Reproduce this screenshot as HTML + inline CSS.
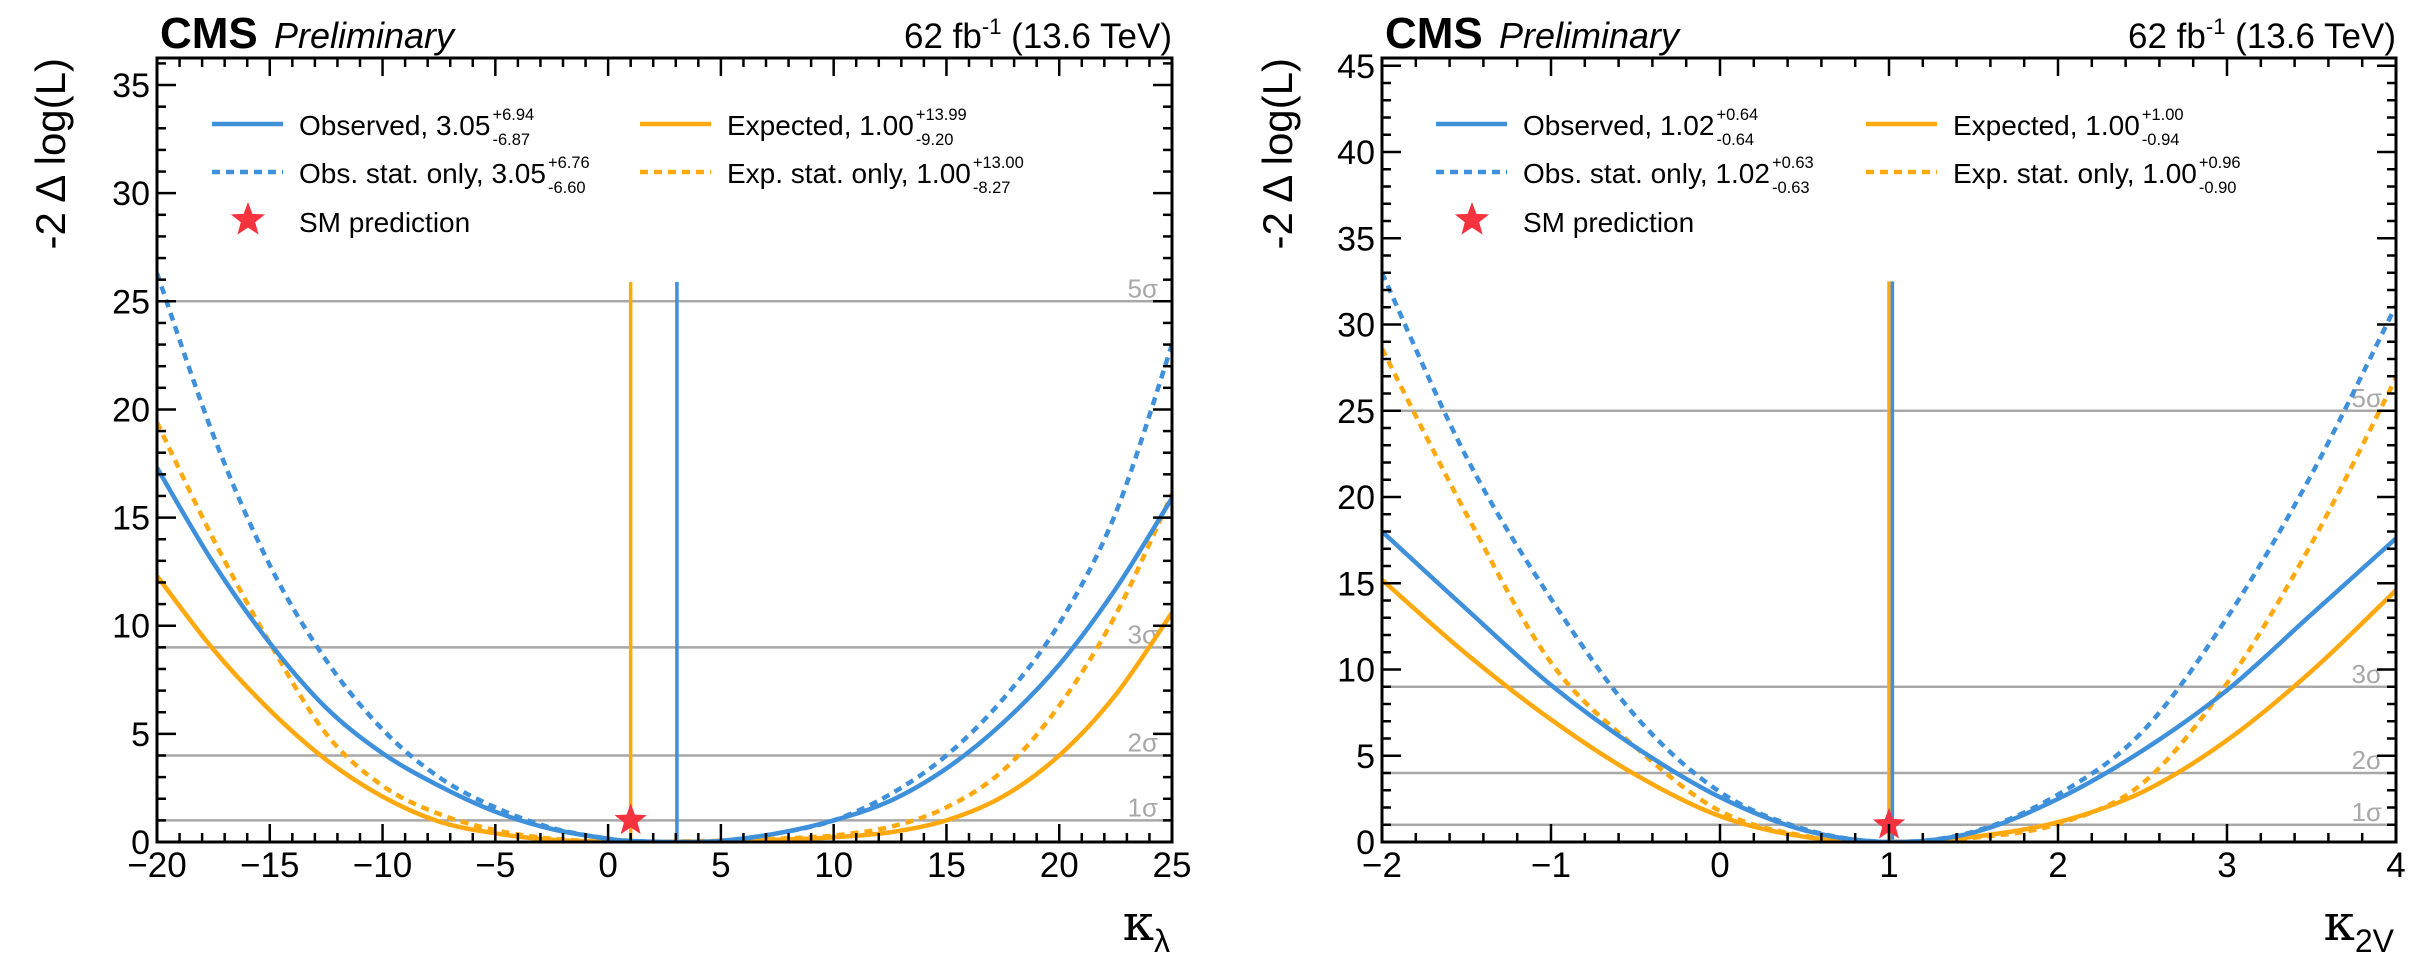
<!DOCTYPE html>
<html><head><meta charset="utf-8"><style>
html,body{margin:0;padding:0;background:#fff;}
svg{display:block;font-family:"Liberation Sans",Arial,sans-serif;}
</style></head><body>
<svg id="c" width="2435" height="968" viewBox="0 0 2435 968" xmlns="http://www.w3.org/2000/svg"></svg>
<script>
// ---- Left panel data (kappa_lambda) ----
const klX = [-20,-17.5,-15,-12.5,-10,-7.5,-5,-2.5,0,1,2.5,3.05,5,7.5,10,12.5,15,17.5,20,22.5,25];
const klObs = [17.3,12.9,9.2,6.2,4.1,2.6,1.4,0.6,0.15,0.05,0.005,0,0.05,0.4,1.0,1.9,3.4,5.5,8.2,11.7,15.9];
const klObsStat = [26.3,18.8,12.8,8.4,5.2,3.0,1.6,0.65,0.15,0.05,0.005,0,0.05,0.4,1.0,2.2,4.0,6.6,10.1,15.2,23.0];
const klExpX = [-20,-17.5,-15,-12.5,-10,-7.5,-5,-2.5,0,1,2.5,5,7.5,10,12.5,15,17.5,20,22.5,25];
const klExp = [12.3,8.9,6.1,3.8,2.1,0.95,0.4,0.1,0.01,0,0.01,0.03,0.1,0.22,0.45,1.0,2.1,4.0,6.8,10.6];
const klExpStat = [19.4,14.0,9.2,5.0,2.6,1.3,0.55,0.15,0.01,0,0.01,0.06,0.15,0.3,0.7,1.6,3.3,6.3,10.5,16.1];
const klBest = {obs:3.05, exp:1.00, sm:1, smY:1};
// ---- Right panel data (kappa_2V) ----
const k2X = [-2,-1.5,-1,-0.5,0,0.5,1,1.5,2,2.5,3,3.5,4];
const k2Obs = [18.0,13.5,9.1,5.5,2.6,0.68,0,0.55,2.5,5.3,8.8,13.2,17.6];
const k2ObsStat = [33.0,22.3,14.1,7.3,2.9,0.75,0,0.6,2.75,6.4,13.0,21.3,31.1];
const k2Exp = [15.2,10.9,7.1,3.9,1.5,0.3,0,0.3,1.15,2.9,5.9,9.9,14.6];
const k2ExpStat = [28.6,19.0,10.4,5.5,1.8,0.35,0,0.25,1.05,3.4,9.2,17.3,26.9];
const k2Best = {obs:1.02, exp:1.00, sm:1, smY:1};
const klXTicks = ["\u221220","\u221215","\u221210","\u22125","0","5","10","15","20","25"];
const k2XTicks = ["\u22122","\u22121","0","1","2","3","4"];
const sigmaVals = [1,4,9,25];
const sigmaLabels = ["1\u03c3","2\u03c3","3\u03c3","5\u03c3"];

const NS="http://www.w3.org/2000/svg";
const svg=document.getElementById('c');
const BLUE="#3f90da", ORANGE="#ffa90e", RED="#f5333f", GRAY="#a8a8a8";
function mk(tag,attrs,parent){const e=document.createElementNS(NS,tag);for(const k in attrs)e.setAttribute(k,attrs[k]);(parent||svg).appendChild(e);return e;}

function smoothPath(pts){
  let d="M"+pts[0][0].toFixed(1)+","+pts[0][1].toFixed(1);
  for(let i=0;i<pts.length-1;i++){
    const p0=pts[Math.max(0,i-1)],p1=pts[i],p2=pts[i+1],p3=pts[Math.min(pts.length-1,i+2)];
    const c1=[p1[0]+(p2[0]-p0[0])/6,p1[1]+(p2[1]-p0[1])/6];
    const c2=[p2[0]-(p3[0]-p1[0])/6,p2[1]-(p3[1]-p1[1])/6];
    d+=" C"+c1[0].toFixed(1)+","+c1[1].toFixed(1)+" "+c2[0].toFixed(1)+","+c2[1].toFixed(1)+" "+p2[0].toFixed(1)+","+p2[1].toFixed(1);
  }
  return d;
}
function star(cx,cy,r,g){
  let p=[];for(let i=0;i<10;i++){const a=-Math.PI/2+i*Math.PI/5;const rr=i%2?r*0.42:r;p.push((cx+rr*Math.cos(a)).toFixed(1)+","+(cy+rr*Math.sin(a)).toFixed(1));}
  return mk('polygon',{points:p.join(' '),fill:RED},g);
}

function panel(cfg){
  const g=mk('g',{});
  
  
  const {x0,x1,y0,y1,xmin,xmax,ymin,ymax}=cfg;
  const sx=v=>x0+(v-xmin)/(xmax-xmin)*(x1-x0);
  const sy=v=>y1-(v-ymin)/(ymax-ymin)*(y1-y0);
  const clipId=cfg.name+"-clip";
  const defs=mk('defs',{},g);
  const cp=mk('clipPath',{id:clipId},defs);
  mk('rect',{x:x0,y:y0,width:x1-x0,height:y1-y0},cp);
  sigmaVals.forEach((s,i)=>{
    const l=mk('line',{x1:x0,x2:x1,y1:sy(s),y2:sy(s),stroke:GRAY,'stroke-width':2.5},g);
    
    
    const t=mk('text',{x:x1-14,y:sy(s)-4,'text-anchor':'end','font-size':26,fill:GRAY},g);
    t.textContent=sigmaLabels[i];
    
    
  });
  const vtop=cfg.vtop;
  const ve=mk('line',{x1:sx(cfg.best.exp),x2:sx(cfg.best.exp),y1:sy(0),y2:sy(vtop),stroke:ORANGE,'stroke-width':3.5},g);
  
  
  const vo=mk('line',{x1:sx(cfg.best.obs),x2:sx(cfg.best.obs),y1:sy(0),y2:sy(vtop),stroke:BLUE,'stroke-width':3.5},g);
  
  
  const cg=mk('g',{'clip-path':'url(#'+clipId+')'},g);
  cfg.series.forEach(s=>{
    const pts=s.xs.map((x,i)=>[sx(x),sy(s.ys[i])]);
    const p=mk('path',{d:smoothPath(pts),fill:'none',stroke:s.color,'stroke-width':4.5,'stroke-dasharray':s.dash?'8 6':'none','stroke-linejoin':'round'},cg);
    
    
  });
  const st=star(sx(cfg.best.sm),sy(cfg.best.smY),17,g);
  
  
  const fr=mk('rect',{x:x0,y:y0,width:x1-x0,height:y1-y0,fill:'none',stroke:'#000','stroke-width':3},g);
  
  
  const nMinX=Math.round((xmax-xmin)/cfg.xminor);
  for(let i=0;i<=nMinX;i++){
    const v=xmin+i*cfg.xminor;const major=Math.abs(v/cfg.xmajor-Math.round(v/cfg.xmajor))<1e-6;
    const L=major?18:9;const X=sx(v);
    mk('line',{x1:X,x2:X,y1:y1,y2:y1-L,stroke:'#000','stroke-width':2.5},g);
    mk('line',{x1:X,x2:X,y1:y0,y2:y0+L,stroke:'#000','stroke-width':2.5},g);
  }
  cfg.xTickLabels.forEach((lab,i)=>{
    const v=xmin+i*cfg.xmajor;
    const t=mk('text',{x:sx(v),y:877,'text-anchor':'middle','font-size':35},g);
    t.textContent=lab;
    
    
  });
  for(let v=0;v<=ymax+1e-6;v+=1){
    const major=v%5===0;const L=major?19:9;const Y=sy(v);
    mk('line',{x1:x0,x2:x0+L,y1:Y,y2:Y,stroke:'#000','stroke-width':2.5},g);
    mk('line',{x1:x1,x2:x1-L,y1:Y,y2:Y,stroke:'#000','stroke-width':2.5},g);
    if(major){
      const t=mk('text',{x:x0-7,y:Y+12,'text-anchor':'end','font-size':34},g);
      t.textContent=String(v);
      
      
    }
  }
  const yt=mk('text',{x:0,y:0,'text-anchor':'end','font-size':42,transform:'translate('+(cfg.ytx)+','+(y0)+') rotate(-90)'},g);
  yt.textContent="-2 \u0394 log(L)";
  
  
  const xt=mk('text',{x:x1-2,y:940,'text-anchor':'end','font-size':50,'font-family':'"DejaVu Serif","Liberation Serif",serif'},g);
  xt.innerHTML='\u03ba<tspan font-size="32" dy="12" font-family="Liberation Sans,sans-serif">'+cfg.xsub+'</tspan>';
  
  
  const cms=mk('text',{x:x0+3,y:48,'font-size':44,'font-weight':'bold'},g);
  cms.textContent="CMS";
  
  
  const pre=mk('text',{x:x0+117,y:48,'font-size':36,'font-style':'italic'},g);
  pre.textContent="Preliminary";
  
  
  const lumi=mk('text',{x:x1,y:48,'text-anchor':'end','font-size':35},g);
  lumi.innerHTML='62 fb<tspan font-size="22" dy="-14">-1</tspan><tspan dy="14"> (13.6 TeV)</tspan>';
  
  
  const lg=mk('g',{},g);
  
  
  cfg.legend.forEach(e=>{
    const eg=mk('g',{},lg);
    
    
    if(e.star){star(e.lx+36,e.y-12,18,eg);}
    else mk('line',{x1:e.lx,x2:e.lx+71,y1:e.y-11,y2:e.y-11,stroke:e.color,'stroke-width':4.5,'stroke-dasharray':e.dash?'8 6':'none'},eg);
    const t=mk('text',{x:e.lx+87,y:e.y,'font-size':28},eg);
    t.textContent=e.text;
    if(e.up){
      const w=t.getComputedTextLength();
      const u=mk('text',{x:e.lx+87+w+2,y:e.y-15,'font-size':16.5},eg);u.textContent=e.up;
      const d=mk('text',{x:e.lx+87+w+2,y:e.y+10,'font-size':16.5},eg);d.textContent=e.dn;
    }
  });
}

panel({name:'kappa-lambda-panel',x0:157,x1:1172,y0:58,y1:842,xmin:-20,xmax:25,ymin:0,ymax:36.25,
  xmajor:5,xminor:1,xTickLabels:klXTicks,xsub:'\u03bb',ytx:65,vtop:25.9,best:klBest,
  series:[
    {name:'expected-curve',xs:klExpX,ys:klExp,color:ORANGE,dash:false},
    {name:'expected-stat-only-curve',xs:klExpX,ys:klExpStat,color:ORANGE,dash:true},
    {name:'observed-curve',xs:klX,ys:klObs,color:BLUE,dash:false},
    {name:'observed-stat-only-curve',xs:klX,ys:klObsStat,color:BLUE,dash:true}],
  legend:[
    {lx:212,y:135,color:BLUE,text:'Observed, 3.05',up:'+6.94',dn:'-6.87'},
    {lx:212,y:183,color:BLUE,dash:true,text:'Obs. stat. only, 3.05',up:'+6.76',dn:'-6.60'},
    {lx:212,y:232,star:true,text:'SM prediction'},
    {lx:640,y:135,color:ORANGE,text:'Expected, 1.00',up:'+13.99',dn:'-9.20'},
    {lx:640,y:183,color:ORANGE,dash:true,text:'Exp. stat. only, 1.00',up:'+13.00',dn:'-8.27'}]
});
panel({name:'kappa-2v-panel',x0:1382,x1:2396,y0:58,y1:842,xmin:-2,xmax:4,ymin:0,ymax:45.45,
  xmajor:1,xminor:0.2,xTickLabels:k2XTicks,xsub:'2V',ytx:1292,vtop:32.5,best:k2Best,
  series:[
    {name:'expected-curve',xs:k2X,ys:k2Exp,color:ORANGE,dash:false},
    {name:'expected-stat-only-curve',xs:k2X,ys:k2ExpStat,color:ORANGE,dash:true},
    {name:'observed-curve',xs:k2X,ys:k2Obs,color:BLUE,dash:false},
    {name:'observed-stat-only-curve',xs:k2X,ys:k2ObsStat,color:BLUE,dash:true}],
  legend:[
    {lx:1436,y:135,color:BLUE,text:'Observed, 1.02',up:'+0.64',dn:'-0.64'},
    {lx:1436,y:183,color:BLUE,dash:true,text:'Obs. stat. only, 1.02',up:'+0.63',dn:'-0.63'},
    {lx:1436,y:232,star:true,text:'SM prediction'},
    {lx:1866,y:135,color:ORANGE,text:'Expected, 1.00',up:'+1.00',dn:'-0.94'},
    {lx:1866,y:183,color:ORANGE,dash:true,text:'Exp. stat. only, 1.00',up:'+0.96',dn:'-0.90'}]
});
</script>
</body></html>
